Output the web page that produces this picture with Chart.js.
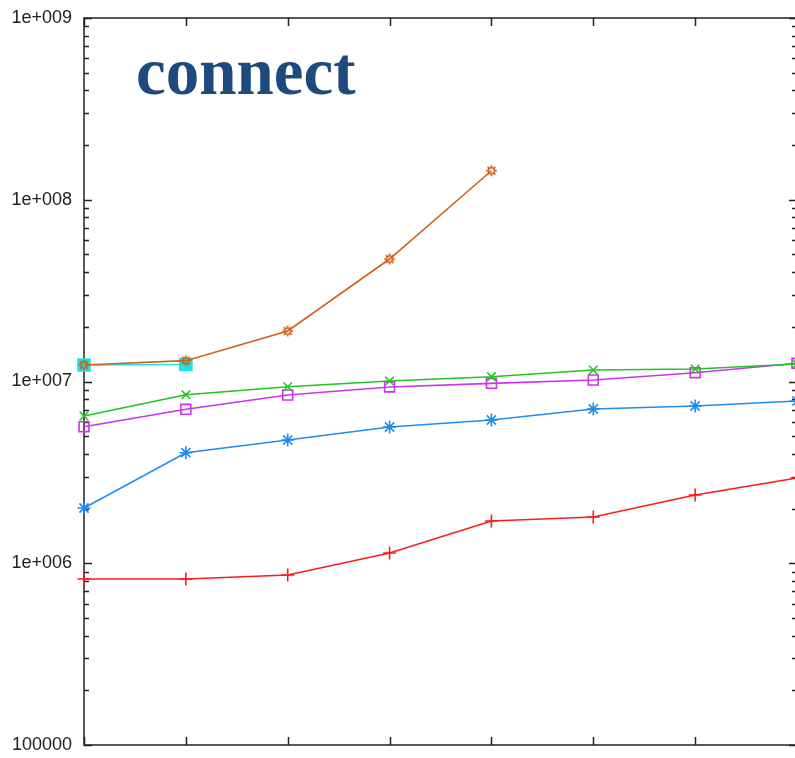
<!DOCTYPE html>
<html>
<head>
<meta charset="utf-8">
<script src="https://cdn.jsdelivr.net/npm/chart.js@4/dist/chart.umd.min.js"></script>
<style>
  html, body { margin: 0; padding: 0; background: #fff; overflow: hidden; }
  #wrap { position: relative; width: 795px; height: 758px; overflow: hidden; }
  #c { position: absolute; left: 0; top: 0; }
  #title {
    position: absolute; left: 136px; top: 38px;
    font-family: "Liberation Serif", "Times New Roman", serif;
    font-weight: bold; font-size: 67px; line-height: 1;
    color: #1f4a7e; white-space: nowrap;
  }
</style>
</head>
<body>
<div id="wrap">
  <canvas id="c" width="800" height="758"></canvas>
  <div id="title">connect</div>
</div>
<script>
// x positions (categories, labels not shown)
const categories = ['1', '2', '3', '4', '5', '6', '7', '8'];

// series values
const redSeries    = [8.19e5, 8.19e5, 8.62e5, 1.139e6, 1.708e6, 1.797e6, 2.374e6, 2.944e6];
const blueSeries   = [2.014e6, 4.058e6, 4.766e6, 5.617e6, 6.14e6, 7.06e6, 7.33e6, 7.81e6];
const purpleSeries = [5.64e6, 7.03e6, 8.43e6, 9.33e6, 9.77e6, 1.019e7, 1.118e7, 1.259e7];
const greenSeries  = [6.46e6, 8.46e6, 9.36e6, 1.006e7, 1.063e7, 1.157e7, 1.172e7, 1.248e7];
const orangeSeries = [1.233e7, 1.302e7, 1.896e7, 4.72e7, 1.444e8, null, null, null];
const cyanSeries   = [1.233e7, 1.24e7, null, null, null, null, null, null];

// y axis range and labelled decades
const yMin = 1e5, yMax = 1e9;
const yTickValues = [1e5, 1e6, 1e7, 1e8, 1e9];
const yTickLabels = ['100000', '1e+006', '1e+007', '1e+008', '1e+009'];

// circle-with-spikes marker
function gearMarker(color) {
  const s = 13, c = document.createElement('canvas');
  c.width = s; c.height = s;
  const g = c.getContext('2d');
  g.strokeStyle = color; g.lineWidth = 1.6;
  g.beginPath(); g.arc(s / 2, s / 2, 3, 0, Math.PI * 2); g.stroke();
  for (let i = 0; i < 8; i++) {
    const a = i * Math.PI / 4;
    g.beginPath();
    g.moveTo(s / 2 + Math.cos(a) * 3, s / 2 + Math.sin(a) * 3);
    g.lineTo(s / 2 + Math.cos(a) * 5.5, s / 2 + Math.sin(a) * 5.5);
    g.stroke();
  }
  return c;
}

function series(data, color, style, radius, fill, order) {
  return {
    data, borderColor: color, borderWidth: 1.6,
    pointStyle: style, pointRadius: radius, pointHoverRadius: radius,
    pointBorderColor: color, pointBorderWidth: 1.6,
    pointBackgroundColor: fill || 'rgba(0,0,0,0)',
    tension: 0, spanGaps: false, clip: false, order
  };
}

// frame with inward ticks on all four sides
const framePlugin = {
  id: 'frame',
  beforeDatasetsDraw(chart) {
    const { ctx, chartArea: a, scales } = chart;
    const y = scales.y, x = scales.x;
    ctx.save();
    ctx.strokeStyle = '#222';
    ctx.lineWidth = 1.5;
    ctx.strokeRect(a.left, a.top, a.right - a.left, a.bottom - a.top);
    ctx.beginPath();
    for (let e = 5; e <= 9; e++) {
      for (let k = 1; k <= 9; k++) {
        const v = k * Math.pow(10, e);
        if (v > yMax) break;
        const py = Math.round(y.getPixelForValue(v)) + 0.5;
        const len = k === 1 ? 8 : 5;
        ctx.moveTo(a.left, py); ctx.lineTo(a.left + len, py);
        ctx.moveTo(a.right, py); ctx.lineTo(a.right - len, py);
      }
    }
    categories.forEach((c, i) => {
      const px = Math.round(x.getPixelForValue(i)) + 0.5;
      ctx.moveTo(px, a.bottom); ctx.lineTo(px, a.bottom - 8);
      ctx.moveTo(px, a.top); ctx.lineTo(px, a.top + 8);
    });
    ctx.stroke();
    ctx.restore();
  }
};

new Chart(document.getElementById('c'), {
  type: 'line',
  data: {
    labels: categories,
    datasets: [
      series(orangeSeries, '#d0601c', gearMarker('#d0601c'), 6, null, 0),
      series(cyanSeries, '#19e6e6', 'rect', 8.5, '#19e6e6', 1),
      series(greenSeries, '#22c422', 'crossRot', 6, null, 2),
      series(purpleSeries, '#cc33ee', 'rect', 7, null, 3),
      series(blueSeries, '#1e8cf0', 'star', 6.5, null, 4),
      series(redSeries, '#ff1a1a', 'cross', 6.5, null, 5)
    ]
  },
  options: {
    responsive: false,
    animation: false,
    devicePixelRatio: 1,
    layout: { autoPadding: false, padding: { top: 18, bottom: 13, left: 0, right: 3 } },
    plugins: { legend: { display: false }, tooltip: { enabled: false }, title: { display: false } },
    scales: {
      x: {
        type: 'category', offset: false, display: false,
        afterFit(scale) { scale.paddingLeft = 0; scale.paddingRight = 0; }
      },
      y: {
        type: 'logarithmic', min: yMin, max: yMax,
        grid: { display: false, drawTicks: false },
        border: { display: false },
        afterBuildTicks(scale) { scale.ticks = yTickValues.map(v => ({ value: v })); },
        afterFit(scale) {
          scale.width = 84;
          scale.paddingTop = 0; scale.paddingBottom = 0;
        },
        ticks: {
          padding: 12,
          color: '#222',
          font: { family: '"Liberation Sans", Arial, sans-serif', size: 18 },
          callback(v) { const i = yTickValues.indexOf(v); return i >= 0 ? yTickLabels[i] : ''; }
        }
      }
    }
  },
  plugins: [framePlugin]
});
</script>
</body>
</html>
